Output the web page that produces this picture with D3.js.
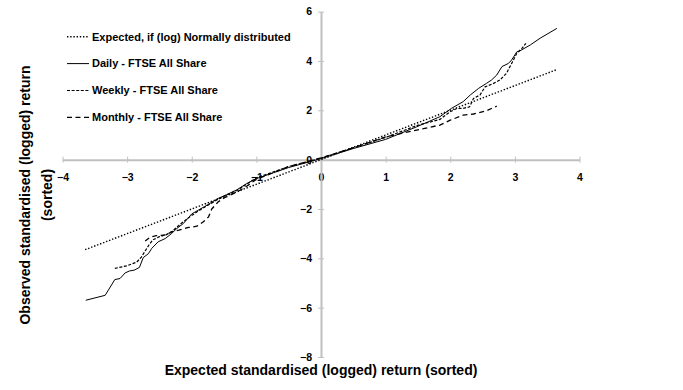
<!DOCTYPE html>
<html>
<head>
<meta charset="utf-8">
<script src="https://cdn.jsdelivr.net/npm/d3@7"></script>
<style>
  body { margin: 0; background: #fff; }
  svg { display: block; font-family: "Liberation Sans Narrow", "Liberation Sans", Arial, sans-serif; font-weight: bold; }
</style>
</head>
<body>
<div id="chart"></div>
<script>
// expected line, y = x
const expectedX = [-3.65, 3.65];
const expectedY = [-3.65, 3.65];

// daily - FTSE All Share
const dailyX = [-3.64, -3.34, -3.19, -3.11, -3.03, -2.96, -2.89, -2.81, -2.75, -2.67, -2.62, -2.52, -2.41, -2.31, -2.23, -2.13, -2.0, -1.9, -1.8, -1.59, -1.46, -1.3, -1.15, -1.0, -0.5, 0, 0.5, 1.0, 1.48, 1.84, 2.02, 2.2, 2.31, 2.44, 2.56, 2.64, 2.72, 2.8, 2.9, 2.95, 3.03, 3.08, 3.24, 3.39, 3.65];
const dailyY = [-5.7, -5.5, -4.86, -4.82, -4.59, -4.51, -4.48, -4.37, -3.97, -3.81, -3.6, -3.33, -3.2, -2.99, -2.79, -2.59, -2.2, -2.05, -1.9, -1.57, -1.42, -1.22, -0.97, -0.77, -0.32, 0.04, 0.45, 0.82, 1.33, 1.74, 2.08, 2.35, 2.62, 2.89, 3.09, 3.23, 3.43, 3.77, 3.9, 4.04, 4.37, 4.41, 4.65, 4.92, 5.32];

// weekly - FTSE All Share
const weeklyX = [-3.19, -3.0, -2.85, -2.78, -2.72, -2.66, -2.6, -2.5, -2.4, -2.3, -2.18, -2.03, -1.9, -1.75, -1.6, -1.45, -1.3, -1.0, -0.5, 0, 0.5, 1.0, 1.48, 1.84, 2.0, 2.1, 2.2, 2.3, 2.36, 2.46, 2.54, 2.67, 2.77, 2.87, 2.95, 3.03, 3.11, 3.17];
const weeklyY = [-4.41, -4.3, -4.15, -3.95, -3.7, -3.45, -3.25, -3.12, -3.05, -2.9, -2.62, -2.32, -2.08, -1.85, -1.62, -1.42, -1.25, -0.74, -0.28, 0.06, 0.48, 0.9, 1.38, 1.63, 1.94, 2.07, 2.08, 2.14, 2.48, 2.62, 2.95, 3.09, 3.23, 3.5, 3.9, 4.31, 4.51, 4.71];

// monthly - FTSE All Share
const monthlyX = [-2.72, -2.65, -2.55, -2.4, -2.3, -2.2, -2.05, -1.92, -1.82, -1.74, -1.69, -1.59, -1.5, -1.3, -1.15, -1.0, -0.5, 0, 0.5, 1.0, 1.48, 1.84, 2.0, 2.2, 2.36, 2.56, 2.72];
const monthlyY = [-3.3, -3.15, -3.08, -3.05, -2.92, -2.86, -2.75, -2.7, -2.52, -2.32, -2.0, -1.71, -1.55, -1.31, -1.08, -0.8, -0.28, 0.07, 0.48, 0.92, 1.2, 1.4, 1.6, 1.8, 1.85, 1.98, 2.17];

const xTicks = [-4, -3, -2, -1, 0, 1, 2, 3, 4];
const yTicks = [-8, -6, -4, -2, 0, 2, 4, 6];

const seriesNames = [
  "Expected, if (log) Normally distributed",
  "Daily - FTSE All Share",
  "Weekly - FTSE All Share",
  "Monthly - FTSE All Share",
];

const width = 683, height = 390;

const series = [
  { name: seriesNames[0], xs: expectedX, ys: expectedY, dash: "1.4,1.8", w: 1.4 },
  { name: seriesNames[1], xs: dailyX, ys: dailyY, dash: null, w: 1 },
  { name: seriesNames[2], xs: weeklyX, ys: weeklyY, dash: "3,1.6", w: 1.2 },
  { name: seriesNames[3], xs: monthlyX, ys: monthlyY, dash: "5,3.5", w: 1.3 },
];

const x = d3.scaleLinear().domain([-4, 4]).range([62.5, 579.5]);
const y = d3.scaleLinear().domain([-8, 6]).range([357, 11.6]);

const svg = d3.select("#chart").append("svg")
  .attr("width", width)
  .attr("height", height);

// x axis through y = 0
const xAxis = svg.append("g")
  .attr("transform", `translate(0,${y(0)})`)
  .call(d3.axisBottom(x).tickValues(xTicks).tickSize(3).tickSizeOuter(0).tickFormat(d3.format("d")));
xAxis.select(".domain").attr("stroke", "#c0c0c0").attr("stroke-width", 2);
xAxis.selectAll(".tick line").attr("stroke", "#c0c0c0").attr("y1", -3).attr("y2", 3);
xAxis.selectAll(".tick text")
  .attr("y", 18).attr("dy", "0.35em")
  .attr("font-size", 10.5).attr("fill", "#000");

// y axis through x = 0
const yAxis = svg.append("g")
  .attr("transform", `translate(${x(0)},0)`)
  .call(d3.axisLeft(y).tickValues(yTicks).tickSize(3).tickSizeOuter(0).tickFormat(d3.format("d")));
yAxis.select(".domain").attr("stroke", "#c0c0c0").attr("stroke-width", 2);
yAxis.selectAll(".tick line").attr("stroke", "#c0c0c0").attr("x1", -3).attr("x2", 3);
yAxis.selectAll(".tick text")
  .attr("x", -9)
  .attr("font-size", 10.5).attr("fill", "#000");
svg.selectAll("g").attr("font-family", null);

// lines
const line = d3.line().x((d) => x(d[0])).y((d) => y(d[1]));
svg.append("g")
  .selectAll("path")
  .data(series)
  .join("path")
  .attr("fill", "none")
  .attr("stroke", "#000")
  .attr("stroke-width", (d) => d.w)
  .attr("stroke-dasharray", (d) => d.dash)
  .attr("d", (d) => line(d.xs.map((v, i) => [v, d.ys[i]])));

// legend
const legend = svg.append("g")
  .selectAll("g")
  .data(series)
  .join("g")
  .attr("transform", (d, i) => `translate(67,${36.7 + i * 26.9})`);
legend.append("line")
  .attr("x1", 0).attr("x2", 22)
  .attr("stroke", "#000")
  .attr("stroke-width", (d) => d.w)
  .attr("stroke-dasharray", (d) => d.dash);
legend.append("text")
  .attr("x", 25).attr("dy", "0.35em")
  .attr("font-size", 11)
  .text((d) => d.name);

// axis titles
svg.append("text")
  .attr("x", 321).attr("y", 370).attr("dy", "0.35em")
  .attr("text-anchor", "middle")
  .attr("font-size", 14)
  .text("Expected standardised (logged) return (sorted)");

const yTitle = svg.append("text")
  .attr("transform", "translate(25,195) rotate(-90)")
  .attr("text-anchor", "middle")
  .attr("font-size", 14);
yTitle.append("tspan").attr("x", 0).attr("dy", "0.35em").text("Observed standardised (logged) return");
yTitle.append("tspan").attr("x", 0).attr("dy", 22).text("(sorted)");
</script>
</body>
</html>
